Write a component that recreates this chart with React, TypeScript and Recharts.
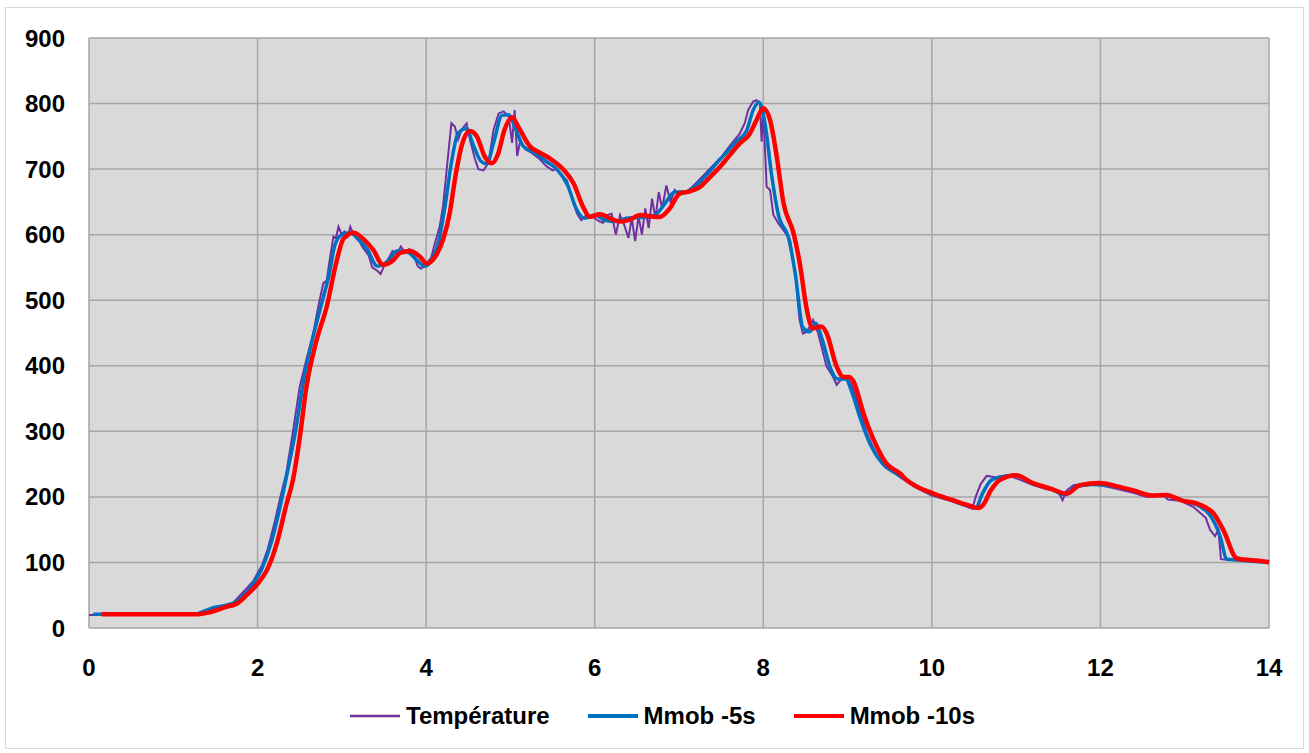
import React from "react";
import { LineChart, Line, XAxis, YAxis, CartesianGrid, Legend } from "recharts";

// ---- Data (time in minutes, temperature in °C) ----
const xTicks = [0, 2, 4, 6, 8, 10, 12, 14];
const yTicks = [0, 100, 200, 300, 400, 500, 600, 700, 800, 900];

const tempTime = [0, 0.5, 1.0, 1.25, 1.35, 1.45, 1.55, 1.7, 1.78, 1.88, 1.95, 2.05, 2.12, 2.2, 2.28, 2.34, 2.42, 2.5, 2.58, 2.66, 2.72, 2.78, 2.82, 2.86, 2.9, 2.93, 2.96, 3.0, 3.03, 3.07, 3.1, 3.14, 3.2, 3.25, 3.32, 3.36, 3.42, 3.46, 3.5, 3.56, 3.6, 3.65, 3.7, 3.75, 3.8, 3.85, 3.9, 3.94, 4.0, 4.06, 4.1, 4.16, 4.2, 4.26, 4.3, 4.34, 4.38, 4.42, 4.48, 4.52, 4.58, 4.62, 4.68, 4.74, 4.8, 4.86, 4.92, 4.98, 5.02, 5.05, 5.08, 5.12, 5.18, 5.25, 5.35, 5.42, 5.5, 5.55, 5.6, 5.67, 5.72, 5.79, 5.84, 5.9, 5.96, 6.0, 6.06, 6.1, 6.15, 6.2, 6.25, 6.3, 6.35, 6.4, 6.44, 6.48, 6.52, 6.56, 6.6, 6.64, 6.68, 6.72, 6.76, 6.8, 6.85, 6.9, 6.95, 7.0, 7.08, 7.15, 7.25, 7.37, 7.5, 7.6, 7.72, 7.78, 7.82, 7.88, 7.92, 7.96, 7.98, 8.0, 8.04, 8.08, 8.12, 8.18, 8.25, 8.32, 8.38, 8.43, 8.47, 8.52, 8.59, 8.65, 8.75, 8.82, 8.87, 8.93, 8.99, 9.05, 9.11, 9.23, 9.32, 9.42, 9.6, 9.8, 10.0, 10.2, 10.4, 10.48, 10.52, 10.58, 10.65, 10.75, 10.9, 11.05, 11.2, 11.35, 11.5, 11.55, 11.6, 11.68, 11.8, 12.0, 12.2, 12.4, 12.55, 12.75, 12.8, 12.95, 13.1, 13.25, 13.3, 13.36, 13.4, 13.43, 13.5, 14.0];
const tempValue = [20, 20, 20, 20, 24, 30, 33, 37, 48, 62, 72, 95, 120, 160, 205, 236, 300, 368, 410, 449, 490, 526, 530, 565, 597, 595, 612, 600, 605, 597, 612, 600, 592, 580, 568, 550, 545, 540, 552, 565, 575, 570, 582, 572, 578, 570, 552, 548, 555, 565, 585, 612, 643, 720, 770, 765, 745, 760, 770, 745, 715, 700, 698, 710, 760, 785, 788, 780, 740, 790, 720, 745, 730, 725, 715, 705, 698, 700, 692, 683, 660, 632, 622, 630, 628, 625, 620, 618, 630, 632, 600, 630, 615, 595, 625, 590, 628, 600, 640, 610, 655, 625, 665, 640, 675, 650, 668, 660, 665, 672, 685, 701, 718, 735, 754, 770, 790, 803, 805, 800, 742, 790, 673, 668, 630, 617, 605, 591, 540, 470, 449, 452, 470, 450, 399, 385, 371, 380, 383, 370, 348, 297, 270, 251, 232, 215, 202, 195, 186, 182, 200, 220, 232, 230, 233, 226, 218, 212, 208, 195, 210, 218, 220, 218, 212, 206, 200, 202, 196, 194, 185, 168, 150, 140, 150, 105, 104, 100];

const mm5Time = [0.05, 0.5, 1.0, 1.25, 1.35, 1.45, 1.6, 1.75, 1.85, 1.95, 2.05, 2.15, 2.25, 2.35, 2.45, 2.55, 2.65, 2.75, 2.85, 2.92, 3.0, 3.1, 3.2, 3.3, 3.42, 3.55, 3.65, 3.78, 3.9, 3.98, 4.08, 4.15, 4.22, 4.3, 4.38, 4.48, 4.55, 4.65, 4.72, 4.8, 4.9, 4.98, 5.05, 5.15, 5.3, 5.42, 5.55, 5.68, 5.78, 5.88, 6.0, 6.12, 6.25, 6.38, 6.5, 6.62, 6.72, 6.82, 6.95, 7.08, 7.2, 7.32, 7.44, 7.56, 7.68, 7.8, 7.88, 7.95, 8.02, 8.1, 8.18, 8.3, 8.38, 8.47, 8.55, 8.62, 8.7, 8.8, 8.88, 8.98, 9.05, 9.15, 9.27, 9.42, 9.6, 9.8, 10.0, 10.25, 10.4, 10.52, 10.6, 10.7, 10.8, 11.0, 11.2, 11.4, 11.58, 11.7, 11.9, 12.2, 12.4, 12.6, 12.78, 12.95, 13.1, 13.3, 13.42, 13.5, 13.6, 14.0];
const mm5Value = [21, 21, 21, 21, 25, 30, 34, 40, 52, 68, 90, 125, 175, 235, 300, 380, 440, 490, 540, 585, 600, 603, 592, 578, 552, 560, 575, 573, 560, 552, 565, 590, 640, 710, 755, 762, 740, 712, 708, 740, 782, 783, 765, 735, 724, 712, 700, 675, 640, 625, 630, 622, 620, 625, 626, 627, 630, 645, 665, 665, 675, 690, 708, 725, 742, 758, 790, 802, 770, 690, 630, 595, 540, 458, 452, 465, 440, 395, 380, 380, 360, 320, 280, 250, 234, 218, 204, 194, 187, 183, 205, 225, 230, 233, 220, 213, 203, 215, 219, 215, 209, 202, 202, 195, 190, 172, 140, 105, 104, 100];

const mm10Time = [0.15, 0.5, 1.0, 1.3, 1.4, 1.51, 1.62, 1.75, 1.87, 1.99, 2.11, 2.23, 2.345, 2.42, 2.5, 2.58, 2.7, 2.82, 2.94, 3.02, 3.14, 3.25, 3.37, 3.49, 3.61, 3.69, 3.81, 3.93, 4.01, 4.12, 4.2, 4.28, 4.34, 4.42, 4.52, 4.6, 4.7, 4.78, 4.85, 4.93, 5.02, 5.1, 5.23, 5.35, 5.47, 5.63, 5.75, 5.86, 5.94, 6.06, 6.18, 6.3, 6.42, 6.54, 6.66, 6.77, 6.89, 7.01, 7.13, 7.25, 7.37, 7.49, 7.6, 7.72, 7.84, 7.92, 8.0, 8.08, 8.16, 8.24, 8.36, 8.44, 8.51, 8.59, 8.69, 8.75, 8.87, 8.95, 9.02, 9.07, 9.19, 9.31, 9.46, 9.62, 9.7, 10.02, 10.25, 10.41, 10.55, 10.61, 10.7, 10.81, 11.0, 11.2, 11.4, 11.6, 11.76, 11.99, 12.2, 12.39, 12.63, 12.78, 12.98, 13.14, 13.34, 13.46, 13.62, 13.97, 14.0];
const mm10Value = [21, 21, 21, 21, 23, 27, 32, 37, 50, 66, 88, 130, 190, 226, 290, 368, 439, 490, 561, 594, 603, 594, 577, 554, 561, 572, 575, 566, 556, 569, 592, 633, 683, 735, 758, 750, 718, 709, 722, 760, 779, 763, 735, 725, 716, 699, 678, 643, 627, 631, 625, 620, 623, 630, 628, 627, 640, 663, 666, 673, 688, 704, 721, 739, 754, 775, 793, 775, 719, 648, 602, 551, 490, 457, 460, 450, 399, 383, 383, 376, 327, 287, 251, 236, 226, 205, 195, 188, 183, 188, 210, 226, 233, 221, 213, 205, 218, 221, 216, 210, 202, 203, 194, 190, 175, 149, 106, 101, 100];

const seriesNames = ["Température", "Mmob -5s", "Mmob -10s"];
const seriesColors = ["#7030a0", "#0070c0", "#ff0000"];
const seriesWidths = [2, 3.5, 4.5];

const zip = (ts: number[], vs: number[]) => ts.map((t, i) => ({ t, v: vs[i] }));
const tempData = zip(tempTime, tempValue);
const mm5Data = zip(mm5Time, mm5Value);
const mm10Data = zip(mm10Time, mm10Value);

const FONT = "'Liberation Sans', Arial, sans-serif";
const FS = 24;

const LegendContent = () => (
  <div style={{ display: "flex", alignItems: "center", paddingLeft: 350, fontFamily: FONT, fontWeight: 700, fontSize: FS, color: "#000" }}>
    {seriesNames.map((n, i) => (
      <div key={n} style={{ display: "flex", alignItems: "center", marginRight: 38 }}>
        <svg width={50} height={10} style={{ marginRight: 6 }}>
          <line x1={0} y1={5} x2={50} y2={5} stroke={seriesColors[i]} strokeWidth={i === 0 ? 2.5 : 4} />
        </svg>
        <span>{n}</span>
      </div>
    ))}
  </div>
);

export default function App() {
  return (
    <div style={{ position: "absolute", left: 0, top: 0, width: 1309, height: 753, background: "#fff" }}>
      <div style={{ position: "absolute", left: 5, top: 7, width: 1299, height: 742, border: "1px solid #d9d9d9", boxSizing: "border-box" }} />
      <LineChart width={1309} height={753} margin={{ top: 38, right: 40, left: 29, bottom: 85 }}>
        <CartesianGrid fill="#d9d9d9" stroke="#a6a6a6" strokeWidth={1.5} />
        <XAxis
          type="number"
          dataKey="t"
          domain={[0, 14]}
          ticks={xTicks}
          axisLine={false}
          tickLine={false}
          tickSize={0}
          tickMargin={31}
          height={40}
          tick={{ fontFamily: FONT, fontWeight: 700, fontSize: FS, fill: "#000" }}
        />
        <YAxis
          type="number"
          domain={[0, 900]}
          ticks={yTicks}
          axisLine={false}
          tickLine={false}
          tickSize={0}
          tickMargin={24}
          width={60}
          tick={{ fontFamily: FONT, fontWeight: 700, fontSize: FS, fill: "#000" }}
        />
        <Legend
          layout="horizontal"
          verticalAlign="middle"
          align="center"
          content={<LegendContent />}
          wrapperStyle={{ top: 702, left: 0, width: 1309 }}
        />
        <Line data={tempData} dataKey="v" name={seriesNames[0]} type="linear" stroke={seriesColors[0]} strokeWidth={seriesWidths[0]} dot={false} isAnimationActive={false} />
        <Line data={mm5Data} dataKey="v" name={seriesNames[1]} type="monotone" stroke={seriesColors[1]} strokeWidth={seriesWidths[1]} dot={false} isAnimationActive={false} />
        <Line data={mm10Data} dataKey="v" name={seriesNames[2]} type="monotone" stroke={seriesColors[2]} strokeWidth={seriesWidths[2]} dot={false} isAnimationActive={false} />
      </LineChart>
    </div>
  );
}
